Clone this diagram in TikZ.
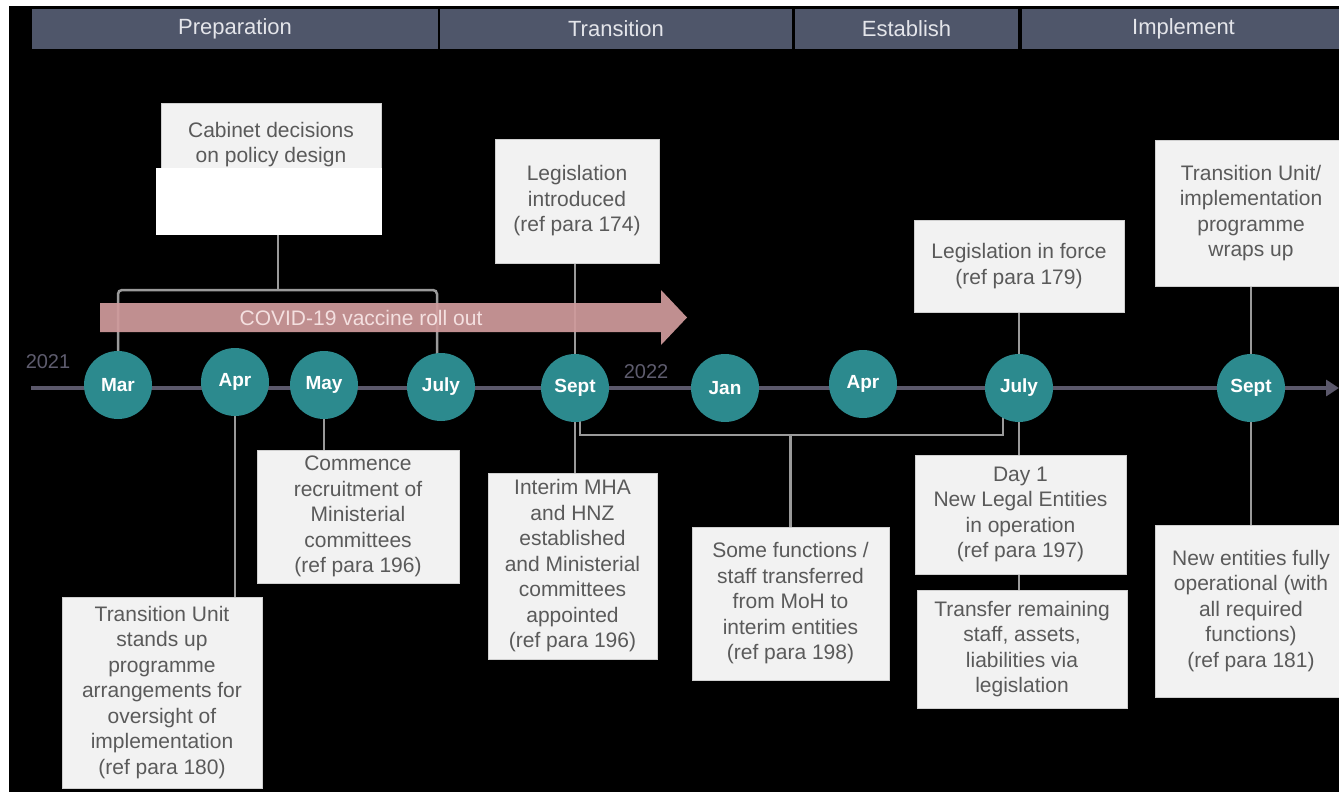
\documentclass[tikz,border=0pt]{standalone}
\usepackage{fontspec}
\setmainfont{Liberation Sans}
\usetikzlibrary{arrows.meta}
\definecolor{hdr}{HTML}{4F566A}
\definecolor{hdrtxt}{HTML}{E4E5EA}
\definecolor{circfill}{HTML}{2C8A8E}
\definecolor{tline}{HTML}{5B586B}
\definecolor{connc}{HTML}{9A9A9A}
\definecolor{boxfill}{HTML}{F2F2F2}
\definecolor{boxedge}{HTML}{D0D0D0}
\definecolor{boxtxt}{HTML}{5A5A5A}
\definecolor{covidc}{HTML}{CF9A9C}
\definecolor{covidtxt}{HTML}{F4E0E0}
\definecolor{yeartxt}{HTML}{5E5C6E}
\pgfdeclarelayer{bg}
\pgfdeclarelayer{lines}
\pgfsetlayers{bg,lines,main}
\tikzset{
  hdrbar/.style={fill=hdr, text=hdrtxt, inner sep=0pt, minimum height=40pt, font=\fontsize{22}{26}\selectfont},
  box/.style={fill=boxfill, draw=boxedge, line width=0.8pt, inner sep=0pt, align=center, text=boxtxt, font=\fontsize{21}{25.5}\selectfont},
  month/.style={circle, fill=circfill, minimum size=68pt, inner sep=0pt, text=white, font=\fontsize{19}{22}\selectfont\bfseries},
  conn/.style={draw=connc, line width=2.5pt},
  tl/.style={draw=tline, line width=4pt},
  yearlbl/.style={text=yeartxt, font=\fontsize{20}{24}\selectfont, inner sep=0pt}
}
\begin{document}
\begin{tikzpicture}[x=1pt,y=-1pt]
\useasboundingbox (0,0) rectangle (1339,792);
\begin{pgfonlayer}{bg}
\fill[white] (0,0) rectangle (1339,792);
\fill[black] (9,6) rectangle (1339,792);
\end{pgfonlayer}
% header
\node[hdrbar, minimum width=406pt] (hprep) at (235,29) {Preparation};
\node[hdrbar, minimum width=352pt] (htran) at (616,29) {Transition};
\node[hdrbar, minimum width=223pt] (hest) at (906.5,29) {Establish};
\node[hdrbar, minimum width=323pt] (himp) at (1183.5,29) {Implement};
% years
\node[yearlbl] (y21) at (48,362) {2021};
\node[yearlbl] (y22) at (646,372) {2022};
% circles
\node[month] (marA) at (118,385) {Mar};
\node[month] (aprA) at (235,382) {Apr};
\node[month] (mayA) at (324,385) {May};
\node[month] (julA) at (441,387) {July};
\node[month] (sepA) at (575,388) {Sept};
\node[month] (janB) at (725,388) {Jan};
\node[month] (aprB) at (863,384) {Apr};
\node[month] (julB) at (1019,388) {July};
\node[month] (sepB) at (1251,388) {Sept};
% boxes above
\node[box, minimum width=220pt, minimum height=83pt] (cab) at (271,144.5) {Cabinet decisions\\on policy design};
\node[fill=white, inner sep=0pt, minimum width=226pt, minimum height=67pt] (cabw) at (269,201.5) {};
\node[box, minimum width=164pt, minimum height=124pt] (legI) at (577,201) {Legislation\\introduced\\(ref para 174)};
\node[box, minimum width=210pt, minimum height=92pt] (legF) at (1019,266) {Legislation in force\\(ref para 179)};
\node[box, minimum width=192pt, minimum height=146pt] (tuw) at (1251,213) {Transition Unit/\\implementation\\programme\\wraps up};
% boxes below
\node[box, minimum width=200pt, minimum height=191pt] (tua) at (162,692.5) {Transition Unit\\stands up\\programme\\arrangements for\\oversight of\\implementation\\(ref para 180)};
\node[box, minimum width=202pt, minimum height=133pt] (com) at (358,516.5) {Commence\\recruitment of\\Ministerial\\committees\\(ref para 196)};
\node[box, minimum width=169pt, minimum height=186pt] (intr) at (572.5,566) {Interim MHA\\and HNZ\\established\\and Ministerial\\committees\\appointed\\(ref para 196)};
\node[box, minimum width=197pt, minimum height=153pt] (some) at (790.5,603.5) {Some functions /\\staff transferred\\from MoH to\\interim entities\\(ref para 198)};
\node[box, minimum width=211pt, minimum height=119pt] (day1) at (1020.5,514.5) {Day 1\\New Legal Entities\\in operation\\(ref para 197)};
\node[box, minimum width=210pt, minimum height=118pt] (trf) at (1022,649) {Transfer remaining\\staff, assets,\\liabilities via\\legislation};
\node[box, minimum width=192pt, minimum height=172pt] (newe) at (1251,611) {New entities fully\\operational (with\\all required\\functions)\\(ref para 181)};
% connectors and timeline
\coordinate (tlS) at (31,388);
\coordinate (tlE) at (1339,388);
\coordinate (bkT) at (278,290);
\coordinate (bkB) at (790.5,435);
\begin{pgfonlayer}{lines}
\draw[tl, -{Triangle[length=13pt,width=16pt]}] (tlS) -- (tlE);
\draw[conn] (cabw.south -| bkT) -- (bkT);
\draw[conn, rounded corners=4pt] (marA.center) -- (marA.center |- bkT) -- ([xshift=-4pt]julA.center |- bkT) -- ([xshift=-4pt]julA.center);
\draw[conn] (legI.south -| sepA) -- (sepA.center);
\draw[conn] (legF.south -| julB) -- (julB.center);
\draw[conn] (tuw.south -| sepB) -- (sepB.center);
\draw[conn] (aprA.center) -- (aprA.center |- tua.north);
\draw[conn] (mayA.center) -- (mayA.center |- com.north);
\draw[conn] (sepA.center) -- (sepA.center |- intr.north);
\draw[conn] (julB.center) -- (julB.center |- day1.north);
\draw[conn] (day1.south -| julB) -- (trf.north -| julB);
\draw[conn] (sepB.center) -- (sepB.center |- newe.north);
\draw[conn] ([xshift=5pt]sepA.center) -- ([xshift=5pt]sepA.center |- bkB) -- ([xshift=-16pt]julB.center |- bkB) -- ([xshift=-16pt]julB.center);
\draw[conn] (bkB) -- (some.north -| bkB);
\end{pgfonlayer}
% COVID arrow
\fill[covidc, fill opacity=0.93] (100,303) -- (661,303) -- (661,290) -- (687,317.5) -- (661,345) -- (661,332) -- (100,332) -- cycle;
\node[text=covidtxt, font=\fontsize{21}{25}\selectfont, inner sep=0pt] (covid) at (361,318) {COVID-19 vaccine roll out};
\end{tikzpicture}
\end{document}
